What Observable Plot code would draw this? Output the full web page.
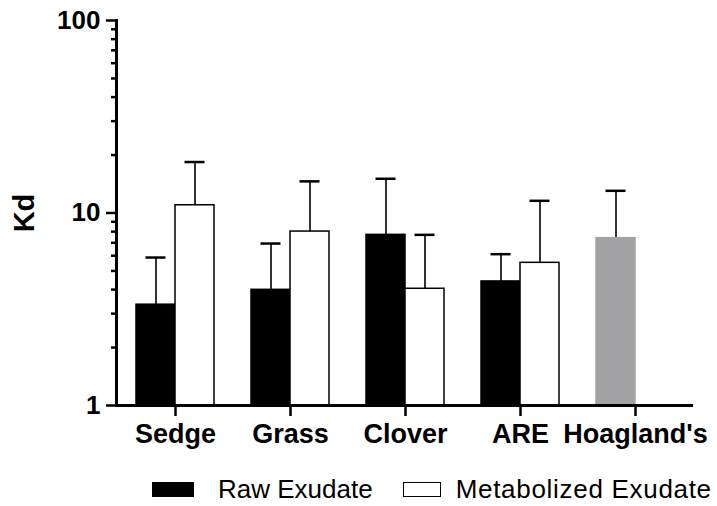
<!DOCTYPE html>
<html>
<head>
<meta charset="utf-8">
<script src="https://cdn.jsdelivr.net/npm/d3@7"></script>
<script src="https://cdn.jsdelivr.net/npm/@observablehq/plot@0.6"></script>
<style>
  body { margin: 0; background: #fff; font-family: "Liberation Sans", Arial, sans-serif; }
  #chart { width: 717px; }
  .legend { display: flex; align-items: center; height: 41px; padding-left: 152px; padding-top: 7px; box-sizing: border-box; font-size: 26px; color: #000; white-space: nowrap; }
  .sw { display: inline-block; width: 42px; height: 15px; box-sizing: border-box; border: 1.5px solid #000; flex: none; }
</style>
</head>
<body>
<div id="chart"></div>
<script>
const categories = ["Sedge", "Grass", "Clover", "ARE", "Hoagland's"];
const rawMean  = [3.34, 3.99, 7.70, 4.41, null];
const rawUpper = [5.87, 6.94, 15.06, 6.11, null];
const metMean  = [10.97, 8.01, 4.04, 5.51, null];
const metUpper = [18.4, 14.6, 7.70, 11.57, null];
const hoagMean  = [null, null, null, null, 7.40];
const hoagUpper = [null, null, null, null, 13.04];
const majorTicks = [1, 10, 100];
const minorTicks = [2,3,4,5,6,7,8,9,20,30,40,50,60,70,80,90];

const rows = [];
categories.forEach((c, i) => {
  if (rawMean[i] != null) rows.push({cat: c, series: "Raw", slot: "left", mean: rawMean[i], upper: rawUpper[i]});
  if (metMean[i] != null) rows.push({cat: c, series: "Met", slot: "right", mean: metMean[i], upper: metUpper[i]});
  if (hoagMean[i] != null) rows.push({cat: c, series: "Hoag", slot: "left", mean: hoagMean[i], upper: hoagUpper[i]});
});
const left = rows.filter(d => d.slot === "left");
const right = rows.filter(d => d.slot === "right");
const fillOf = {Raw: "#000", Met: "#fff", Hoag: "#a3a3a7"};
const strokeOf = {Raw: "#000", Met: "#000", Hoag: "#a3a3a7"};

const half = 39; // half of the band width

const plot = Plot.plot({
  width: 717,
  height: 465,
  marginLeft: 116,
  marginRight: 24,
  marginTop: 20,
  marginBottom: 60,
  style: {fontFamily: "'Liberation Sans', Arial, sans-serif", fontWeight: "bold", color: "#000", background: "#fff"},
  x: {domain: categories, paddingInner: 0.324, paddingOuter: 0.162, axis: null},
  y: {type: "log", domain: [1, 100], axis: null},
  marks: [
    // error stems
    Plot.ruleX(left, {x: "cat", y1: "mean", y2: "upper", dx: -half / 2, stroke: "#000", strokeWidth: 1.6}),
    Plot.ruleX(right, {x: "cat", y1: "mean", y2: "upper", dx: half / 2, stroke: "#000", strokeWidth: 1.6}),
    // caps
    Plot.tickY(left, {x: "cat", y: "upper", insetLeft: 9.5, insetRight: 48.5, stroke: "#000", strokeWidth: 2.5}),
    Plot.tickY(right, {x: "cat", y: "upper", insetLeft: 48.5, insetRight: 9.5, stroke: "#000", strokeWidth: 2.5}),
    // bars
    Plot.barY(left, {x: "cat", y1: 1, y2: "mean", insetRight: half, fill: d => fillOf[d.series], stroke: d => strokeOf[d.series], strokeWidth: 1.5}),
    Plot.barY(right, {x: "cat", y1: 1, y2: "mean", insetLeft: half, fill: d => fillOf[d.series], stroke: d => strokeOf[d.series], strokeWidth: 1.5}),
    // axes
    Plot.frame({anchor: "left", stroke: "#000", strokeWidth: 3}),
    Plot.ruleY([1], {stroke: "#000", strokeWidth: 3}),
    Plot.axisY({ticks: minorTicks, tickSize: 5, tickFormat: () => "", stroke: "#000", strokeWidth: 2.5, label: null}),
    Plot.axisY({ticks: majorTicks, tickSize: 10, tickPadding: 6, tickFormat: d => String(d), stroke: "#000", strokeWidth: 2.5,
      fontSize: 26, fontWeight: "bold", fill: "#000",
      label: "Kd", labelAnchor: "center", labelArrow: false, labelOffset: 103}),
    Plot.axisX({tickSize: 11, tickPadding: 7, stroke: "#000", strokeWidth: 2.5, fontSize: 27, fontWeight: "bold", fill: "#000", label: null})
  ]
});
document.getElementById("chart").appendChild(plot);

// enlarge the y label
plot.querySelectorAll("text").forEach(t => {
  if (t.textContent === "Kd") t.setAttribute("font-size", "29");
});

const legend = document.createElement("div");
legend.className = "legend";
legend.innerHTML = `<span class="sw" style="background:#000"></span><span style="margin-left:24px">Raw Exudate</span>` +
  `<span class="sw" style="background:#fff;margin-left:30px;width:38px"></span><span style="margin-left:15px;letter-spacing:0.7px">Metabolized Exudate</span>`;
document.getElementById("chart").appendChild(legend);
</script>
</body>
</html>
